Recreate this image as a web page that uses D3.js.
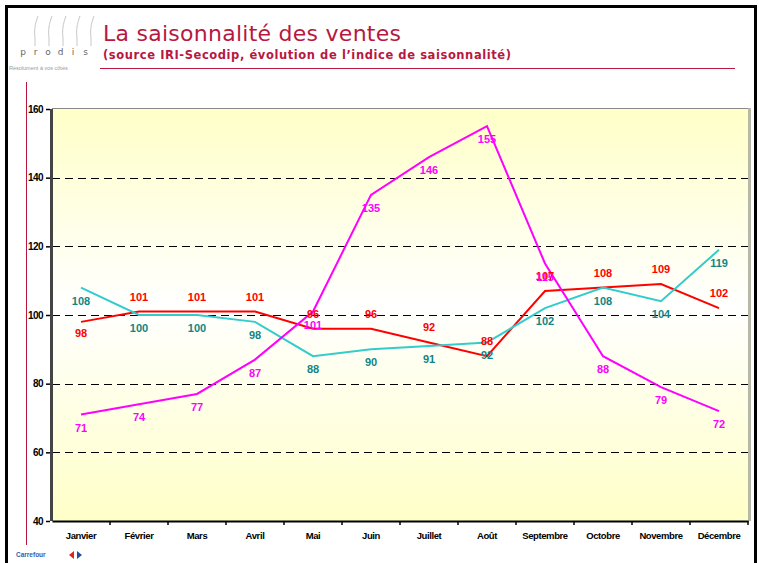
<!DOCTYPE html>
<html>
<head>
<meta charset="utf-8">
<script src="https://cdn.jsdelivr.net/npm/d3@7/dist/d3.min.js"></script>
<style>
  body { margin: 0; background: #fff; }
  svg { display: block; }
  .lbl { font-family: "Liberation Sans", Arial, sans-serif; font-weight: bold; font-size: 11px; }
</style>
</head>
<body>
<svg id="chart" width="759" height="563"></svg>
<script>
// months and the three seasonality series
const months = ['Janvier', 'Février', 'Mars', 'Avril', 'Mai', 'Juin', 'Juillet', 'Août',
  'Septembre', 'Octobre', 'Novembre', 'Décembre'];
const redValues = [98, 101, 101, 101, 96, 96, 92, 88, 107, 108, 109, 102];
const cyanValues = [108, 100, 100, 98, 88, 90, 91, 92, 102, 108, 104, 119];
const magentaValues = [71, 74, 77, 87, 101, 135, 146, 155, 115, 88, 79, 72];
const yTicks = [40, 60, 80, 100, 120, 140, 160];

const svg = d3.select('#chart');
const crimson = '#b8173f';

// outer frame
svg.append('path')
  .attr('d', 'M6.5,570 V6.5 H755.5 V570')
  .attr('fill', 'none')
  .attr('stroke', '#000')
  .attr('stroke-width', 3);

// header
svg.append('text')
  .attr('x', 103).attr('y', 41)
  .attr('fill', crimson)
  .style('font-family', '"Comic Sans MS", "DejaVu Sans", sans-serif')
  .style('font-size', '22px')
  .attr('textLength', 298)
  .text('La saisonnalité des ventes');

svg.append('text')
  .attr('x', 103).attr('y', 59)
  .attr('fill', crimson)
  .style('font-family', '"Comic Sans MS", "DejaVu Sans", sans-serif')
  .style('font-size', '11.5px')
  .style('font-weight', 'bold')
  .attr('textLength', 408)
  .text('(source IRI-Secodip, évolution de l’indice de saisonnalité)');

svg.append('line')
  .attr('x1', 100).attr('x2', 735)
  .attr('y1', 68.5).attr('y2', 68.5)
  .attr('stroke', crimson).attr('stroke-width', 1);

svg.append('line')
  .attr('x1', 26.5).attr('x2', 26.5)
  .attr('y1', 82).attr('y2', 545)
  .attr('stroke', crimson).attr('stroke-width', 1);

// prodis logo
const logo = svg.append('g');
[38, 52, 66, 80, 94].forEach(x => {
  logo.append('path')
    .attr('d', `M${x},16 C${x - 3},24 ${x - 4},30 ${x - 3},38 L${x - 3},46`)
    .attr('fill', 'none')
    .attr('stroke', '#c8c8c8')
    .attr('stroke-width', 1);
});
logo.selectAll('text.prodis')
  .data(['p', 'r', 'o', 'd', 'i', 's'])
  .join('text')
  .attr('x', (d, i) => 23 + i * 12.5)
  .attr('y', 55)
  .attr('text-anchor', 'middle')
  .attr('fill', '#666')
  .style('font-family', '"DejaVu Sans", sans-serif')
  .style('font-size', '9px')
  .text(d => d);
logo.append('text')
  .attr('x', 9).attr('y', 70)
  .attr('fill', '#999')
  .style('font-family', '"Liberation Sans", sans-serif')
  .style('font-size', '5.5px')
  .text('Résolument à vos côtés');

// carrefour logo
svg.append('text')
  .attr('x', 16).attr('y', 557)
  .attr('fill', '#3a5aa8')
  .style('font-family', '"Liberation Sans", sans-serif')
  .style('font-size', '6.5px')
  .style('font-weight', 'bold')
  .text('Carrefour');
svg.append('path').attr('d', 'M74,551 L69,555 L74,559 Z').attr('fill', '#e2231a');
svg.append('path').attr('d', 'M77,551 L82,555 L77,559 Z').attr('fill', '#1f4fa0');

// plot area
const plot = { left: 52, right: 748, top: 109, bottom: 521 };

const x = d3.scaleBand()
  .domain(months)
  .range([plot.left, plot.right]);

const y = d3.scaleLinear()
  .domain([40, 160])
  .range([plot.bottom, plot.top]);

const defs = svg.append('defs');
const grad = defs.append('linearGradient')
  .attr('id', 'bg')
  .attr('x1', 0).attr('x2', 0).attr('y1', 0).attr('y2', 1);
grad.append('stop').attr('offset', '0%').attr('stop-color', '#ffffc8');
grad.append('stop').attr('offset', '48%').attr('stop-color', '#ffffff');
grad.append('stop').attr('offset', '100%').attr('stop-color', '#ffffc8');

svg.append('rect')
  .attr('x', plot.left).attr('y', plot.top)
  .attr('width', plot.right - plot.left)
  .attr('height', plot.bottom - plot.top)
  .attr('fill', 'url(#bg)');

// top and right 3D borders
svg.append('line')
  .attr('x1', plot.left).attr('x2', plot.right)
  .attr('y1', plot.top - 0.5).attr('y2', plot.top - 0.5)
  .attr('stroke', '#888');
svg.append('rect')
  .attr('x', plot.right).attr('y', plot.top - 1)
  .attr('width', 3).attr('height', plot.bottom - plot.top + 1)
  .attr('fill', '#b8b8a8');

// grid lines
svg.append('g')
  .selectAll('line')
  .data(yTicks.filter(d => d > 40 && d < 160))
  .join('line')
  .attr('x1', plot.left).attr('x2', plot.right)
  .attr('y1', d => Math.round(y(d)) + 0.5)
  .attr('y2', d => Math.round(y(d)) + 0.5)
  .attr('stroke', '#000')
  .attr('stroke-dasharray', '8,5');

// left wall
svg.append('rect')
  .attr('x', plot.left - 2).attr('y', plot.top)
  .attr('width', 3).attr('height', plot.bottom - plot.top)
  .attr('fill', '#444');

// y axis
const yAxis = svg.append('g')
  .attr('transform', `translate(${plot.left - 2},0)`)
  .call(d3.axisLeft(y).tickValues(yTicks).tickSize(4).tickPadding(3))
  .call(g => g.select('.domain').remove());
yAxis.selectAll('line').attr('stroke', '#000').attr('stroke-width', 1.5);
yAxis.selectAll('text')
  .style('font-family', '"Liberation Sans", Arial, sans-serif')
  .style('font-weight', 'bold')
  .style('font-size', '10px')
  .style('letter-spacing', '-0.6px')
  .attr('fill', '#000');

// x axis
const xAxis = svg.append('g')
  .attr('transform', `translate(0,${plot.bottom})`)
  .call(d3.axisBottom(x).tickSize(0).tickPadding(11));
xAxis.select('.domain').attr('stroke', '#000').attr('stroke-width', 2);
xAxis.selectAll('text')
  .style('font-family', '"Liberation Sans", Arial, sans-serif')
  .style('font-weight', 'bold')
  .style('font-size', '9.5px')
  .style('letter-spacing', '-0.4px')
  .attr('fill', '#000');
svg.append('g')
  .selectAll('line')
  .data(months.slice(1).concat(['end']))
  .join('line')
  .attr('x1', (d, i) => plot.left + x.step() * (i + 1))
  .attr('x2', (d, i) => plot.left + x.step() * (i + 1))
  .attr('y1', plot.bottom).attr('y2', plot.bottom + 4)
  .attr('stroke', '#000').attr('stroke-width', 1.5);

// series
const series = [
  { values: redValues, line: '#ff0000', label: '#ff0000', dy: -11 },
  { values: cyanValues, line: '#33cccc', label: '#108585', dy: 17 },
  { values: magentaValues, line: '#ff00ff', label: '#ff00ff', dy: 17 }
];
// January red label sits below its point
const redBelow = [0];

const line = d3.line()
  .x((d, i) => x(months[i]) + x.bandwidth() / 2)
  .y(d => y(d));

series.forEach(s => {
  svg.append('path')
    .datum(s.values)
    .attr('d', line)
    .attr('fill', 'none')
    .attr('stroke', s.line)
    .attr('stroke-width', 2);
});

series.forEach((s, si) => {
  svg.append('g')
    .selectAll('text')
    .data(s.values)
    .join('text')
    .attr('class', 'lbl')
    .attr('text-anchor', 'middle')
    .attr('x', (d, i) => x(months[i]) + x.bandwidth() / 2)
    .attr('y', (d, i) => y(d) + (si === 0 && redBelow.includes(i) ? 15 : s.dy))
    .attr('fill', s.label)
    .text(d => d);
});
</script>
</body>
</html>
